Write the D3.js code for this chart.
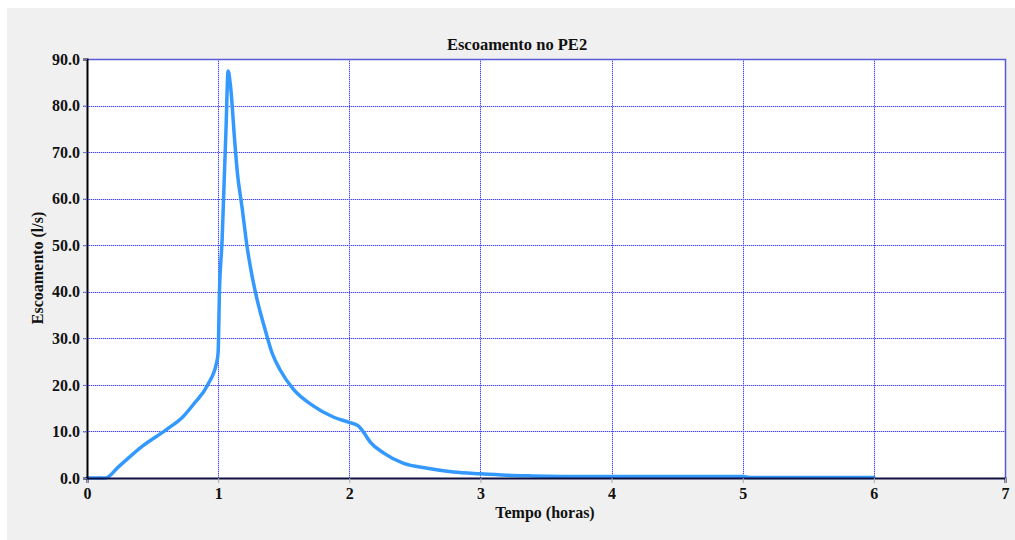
<!DOCTYPE html>
<html>
<head>
<meta charset="utf-8">
<script src="https://cdn.jsdelivr.net/npm/d3@7"></script>
<style>
  body { margin: 0; background: #ffffff; }
  svg { display: block; }
  text { font-family: "Liberation Serif", "Times New Roman", serif; font-weight: bold; fill: #111; }
</style>
</head>
<body>
<svg></svg>
<script>
// Chart data
let tempo = [0, 0.14, 0.24, 0.42, 0.6, 0.73, 0.82, 0.92, 0.99, 1.0, 1.01, 1.03, 1.045, 1.06, 1.076,
  1.092, 1.13, 1.145, 1.183, 1.221, 1.26, 1.298, 1.359, 1.412, 1.473, 1.573, 1.725, 1.878, 1.992, 2.069, 2.107,
  2.16, 2.26, 2.41, 2.595, 2.794, 3.0, 3.2, 3.4, 3.8, 4.5, 5.0, 5.05, 6.0];
let escoamento = [0, 0, 2.4, 6.8, 10.3, 13.1, 16.1, 20.0, 25.0, 27.0, 40.0, 51.0, 63.0, 75.0, 87.4,
  84.8, 71.0, 66.0, 58.0, 49.6, 43.2, 38.2, 31.8, 26.8, 23.2, 19.1, 15.5, 13.1, 12.0, 11.2, 9.9,
  7.7, 5.4, 3.2, 2.1, 1.3, 0.9, 0.6, 0.45, 0.3, 0.3, 0.3, 0.1, 0.1];
let xTicks = [0, 1, 2, 3, 4, 5, 6, 7];
let yTicks = [0, 10, 20, 30, 40, 50, 60, 70, 80, 90];

// SVG dimensions
let width = 1015, height = 540;
let plotLeft = 87, plotRight = 1005, plotTop = 59, plotBottom = 478;

let svg = d3.select('svg').attr('width', width).attr('height', height);

// grey panel
svg.append('rect')
  .attr('x', 7).attr('y', 8)
  .attr('width', width - 7).attr('height', height - 8)
  .attr('fill', '#f0f0f0');

// plot area
svg.append('rect')
  .attr('x', plotLeft).attr('y', plotTop)
  .attr('width', plotRight - plotLeft).attr('height', plotBottom - plotTop)
  .attr('fill', '#ffffff');

let xScale = d3.scaleLinear().domain([0, 7]).range([plotLeft, plotRight]);
let yScale = d3.scaleLinear().domain([0, 90]).range([plotBottom, plotTop]);

// grid lines: light blue base with darker blue dots on top
function drawGrid(color, dash) {
  svg.append('g')
    .selectAll('line')
    .data(xTicks.slice(1, -1))
    .enter()
    .append('line')
    .attr('x1', d => Math.round(xScale(d)) + 0.5).attr('x2', d => Math.round(xScale(d)) + 0.5)
    .attr('y1', plotTop).attr('y2', plotBottom)
    .attr('stroke', color)
    .attr('shape-rendering', 'crispEdges')
    .attr('stroke-dasharray', dash);

  svg.append('g')
    .selectAll('line')
    .data(yTicks.slice(1, -1))
    .enter()
    .append('line')
    .attr('x1', plotLeft - 4).attr('x2', plotRight)
    .attr('y1', d => Math.round(yScale(d)) + 0.5).attr('y2', d => Math.round(yScale(d)) + 0.5)
    .attr('stroke', color)
    .attr('shape-rendering', 'crispEdges')
    .attr('stroke-dasharray', dash);
}
drawGrid('#bcbcff', null);
drawGrid('#4848ff', '1,1');

// top and right border
svg.append('path')
  .attr('d', `M${plotLeft},${plotTop + 0.5}H${plotRight + 0.5}V${plotBottom}`)
  .attr('fill', 'none')
  .attr('stroke', '#5a5ad8')
  .attr('stroke-width', 1.5);

// the flow curve
let line = d3.line()
  .x((d, i) => xScale(tempo[i]))
  .y(d => yScale(d))
  .curve(d3.curveMonotoneX);

svg.append('path')
  .datum(escoamento)
  .attr('d', line)
  .attr('fill', 'none')
  .attr('stroke', '#3399ff')
  .attr('stroke-width', 3.5)
  .attr('stroke-linejoin', 'round')
  .attr('stroke-linecap', 'round');

// x axis
let xAxis = d3.axisBottom(xScale).tickValues(xTicks).tickFormat(d3.format('d')).tickSize(5).tickPadding(5);
let gx = svg.append('g')
  .attr('transform', `translate(0, ${plotBottom})`)
  .call(xAxis);
gx.select('.domain').attr('stroke', '#101040').attr('stroke-width', 2);
gx.selectAll('.tick line').attr('stroke', '#aaaaaa');
gx.selectAll('text').style('font-size', '16px').attr('fill', '#111').style('font-family', '"Liberation Serif", serif').style('font-weight', 'bold');

// y axis
let yAxis = d3.axisLeft(yScale).tickValues(yTicks).tickFormat(d3.format('.1f')).tickSize(4).tickPadding(3);
let gy = svg.append('g')
  .attr('transform', `translate(${plotLeft}, 0)`)
  .call(yAxis);
gy.select('.domain').attr('stroke', '#000').attr('stroke-width', 2);
gy.selectAll('.tick line').attr('stroke', '#7070e0');
gy.selectAll('text').style('font-size', '16px').attr('fill', '#111').style('font-family', '"Liberation Serif", serif').style('font-weight', 'bold');

// titles
svg.append('text')
  .attr('x', 517).attr('y', 50)
  .attr('text-anchor', 'middle')
  .style('font-size', '16.5px')
  .text('Escoamento no PE2');

svg.append('text')
  .attr('x', 545).attr('y', 518)
  .attr('text-anchor', 'middle')
  .style('font-size', '16px')
  .text('Tempo (horas)');

svg.append('text')
  .attr('transform', 'translate(43, 268) rotate(-90)')
  .attr('text-anchor', 'middle')
  .style('font-size', '16px')
  .text('Escoamento (l/s)');
</script>
</body>
</html>
